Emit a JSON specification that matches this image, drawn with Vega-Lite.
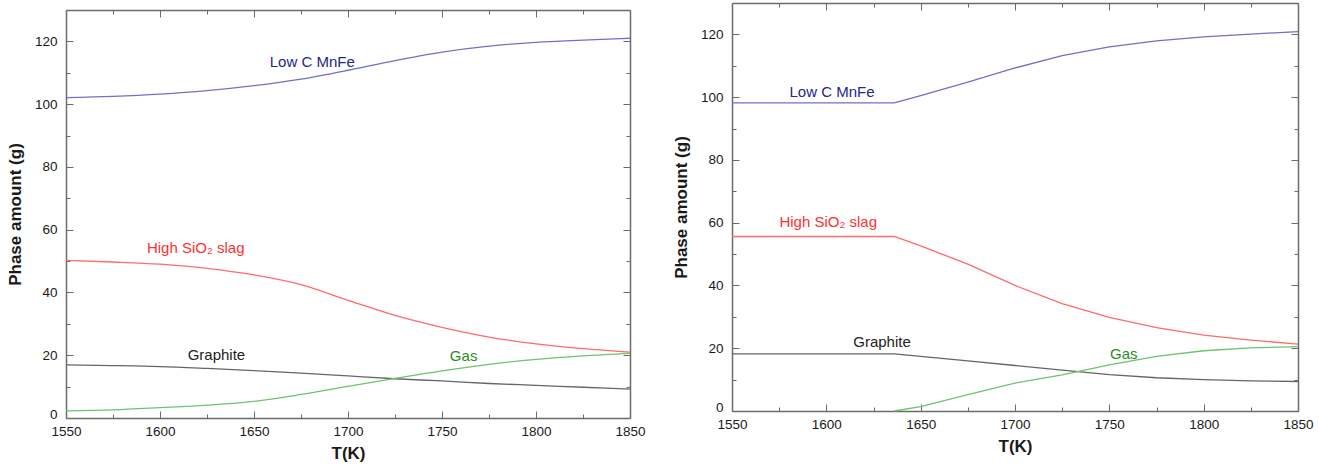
{
  "$schema": "https://vega.github.io/schema/vega-lite/v6.json",
  "padding": {"left": 6, "top": 2, "right": 5, "bottom": 5},
  "background": "white",
  "config": {
    "view": {"stroke": null},
    "font": "Liberation Sans",
    "axis": {
      "grid": false,
      "domainColor": "#6b6b6b",
      "domainWidth": 1.5,
      "tickColor": "#6b6b6b",
      "tickWidth": 1,
      "labelFont": "Liberation Sans",
      "labelFontSize": 13.5,
      "labelColor": "#1a1a1a",
      "labelOverlap": false,
      "labelFlush": false,
      "titleFont": "Liberation Sans",
      "titleFontSize": 17,
      "titleFontWeight": "bold",
      "titleColor": "#1a1a1a"
    }
  },
  "datasets": {
    "left": [
      {"series": "Low C MnFe", "T": 1550, "v": 102.1}, {"series": "Low C MnFe", "T": 1575, "v": 102.5}, {"series": "Low C MnFe", "T": 1600, "v": 103.2}, {"series": "Low C MnFe", "T": 1625, "v": 104.3}, {"series": "Low C MnFe", "T": 1650, "v": 105.9}, {"series": "Low C MnFe", "T": 1675, "v": 108.0}, {"series": "Low C MnFe", "T": 1700, "v": 110.8}, {"series": "Low C MnFe", "T": 1725, "v": 113.9}, {"series": "Low C MnFe", "T": 1750, "v": 116.6}, {"series": "Low C MnFe", "T": 1775, "v": 118.5}, {"series": "Low C MnFe", "T": 1800, "v": 119.7}, {"series": "Low C MnFe", "T": 1825, "v": 120.4}, {"series": "Low C MnFe", "T": 1850, "v": 121.0},
      {"series": "High SiO2 slag", "T": 1550, "v": 50.2}, {"series": "High SiO2 slag", "T": 1575, "v": 49.7}, {"series": "High SiO2 slag", "T": 1600, "v": 49.0}, {"series": "High SiO2 slag", "T": 1625, "v": 47.7}, {"series": "High SiO2 slag", "T": 1650, "v": 45.6}, {"series": "High SiO2 slag", "T": 1675, "v": 42.5}, {"series": "High SiO2 slag", "T": 1700, "v": 37.5}, {"series": "High SiO2 slag", "T": 1725, "v": 32.7}, {"series": "High SiO2 slag", "T": 1750, "v": 28.9}, {"series": "High SiO2 slag", "T": 1775, "v": 25.8}, {"series": "High SiO2 slag", "T": 1800, "v": 23.6}, {"series": "High SiO2 slag", "T": 1825, "v": 22.1}, {"series": "High SiO2 slag", "T": 1850, "v": 21.0},
      {"series": "Graphite", "T": 1550, "v": 16.9}, {"series": "Graphite", "T": 1575, "v": 16.7}, {"series": "Graphite", "T": 1600, "v": 16.4}, {"series": "Graphite", "T": 1625, "v": 15.8}, {"series": "Graphite", "T": 1650, "v": 15.1}, {"series": "Graphite", "T": 1675, "v": 14.3}, {"series": "Graphite", "T": 1700, "v": 13.4}, {"series": "Graphite", "T": 1725, "v": 12.5}, {"series": "Graphite", "T": 1750, "v": 11.8}, {"series": "Graphite", "T": 1775, "v": 11.0}, {"series": "Graphite", "T": 1800, "v": 10.4}, {"series": "Graphite", "T": 1825, "v": 9.8}, {"series": "Graphite", "T": 1850, "v": 9.2},
      {"series": "Gas", "T": 1550, "v": 2.3}, {"series": "Gas", "T": 1575, "v": 2.6}, {"series": "Gas", "T": 1600, "v": 3.3}, {"series": "Gas", "T": 1625, "v": 4.1}, {"series": "Gas", "T": 1650, "v": 5.3}, {"series": "Gas", "T": 1675, "v": 7.5}, {"series": "Gas", "T": 1700, "v": 10.1}, {"series": "Gas", "T": 1725, "v": 12.6}, {"series": "Gas", "T": 1750, "v": 15.0}, {"series": "Gas", "T": 1775, "v": 17.1}, {"series": "Gas", "T": 1800, "v": 18.7}, {"series": "Gas", "T": 1825, "v": 19.8}, {"series": "Gas", "T": 1850, "v": 20.6}
    ],
    "right": [
      {"series": "Low C MnFe", "T": 1550, "v": 98.2}, {"series": "Low C MnFe", "T": 1636, "v": 98.2}, {"series": "Low C MnFe", "T": 1650, "v": 100.5}, {"series": "Low C MnFe", "T": 1675, "v": 104.8}, {"series": "Low C MnFe", "T": 1700, "v": 109.3}, {"series": "Low C MnFe", "T": 1725, "v": 113.2}, {"series": "Low C MnFe", "T": 1750, "v": 116.0}, {"series": "Low C MnFe", "T": 1775, "v": 117.9}, {"series": "Low C MnFe", "T": 1800, "v": 119.2}, {"series": "Low C MnFe", "T": 1825, "v": 120.1}, {"series": "Low C MnFe", "T": 1850, "v": 120.9},
      {"series": "High SiO2 slag", "T": 1550, "v": 55.6}, {"series": "High SiO2 slag", "T": 1636, "v": 55.6}, {"series": "High SiO2 slag", "T": 1650, "v": 52.6}, {"series": "High SiO2 slag", "T": 1675, "v": 46.8}, {"series": "High SiO2 slag", "T": 1700, "v": 40.0}, {"series": "High SiO2 slag", "T": 1725, "v": 34.2}, {"series": "High SiO2 slag", "T": 1750, "v": 29.8}, {"series": "High SiO2 slag", "T": 1775, "v": 26.6}, {"series": "High SiO2 slag", "T": 1800, "v": 24.2}, {"series": "High SiO2 slag", "T": 1825, "v": 22.6}, {"series": "High SiO2 slag", "T": 1850, "v": 21.3},
      {"series": "Graphite", "T": 1550, "v": 18.2}, {"series": "Graphite", "T": 1636, "v": 18.2}, {"series": "Graphite", "T": 1650, "v": 17.4}, {"series": "Graphite", "T": 1675, "v": 16.0}, {"series": "Graphite", "T": 1700, "v": 14.5}, {"series": "Graphite", "T": 1725, "v": 13.0}, {"series": "Graphite", "T": 1750, "v": 11.6}, {"series": "Graphite", "T": 1775, "v": 10.6}, {"series": "Graphite", "T": 1800, "v": 10.0}, {"series": "Graphite", "T": 1825, "v": 9.6}, {"series": "Graphite", "T": 1850, "v": 9.4},
      {"series": "Gas", "T": 1636, "v": 0.0}, {"series": "Gas", "T": 1650, "v": 1.4}, {"series": "Gas", "T": 1675, "v": 5.2}, {"series": "Gas", "T": 1700, "v": 8.9}, {"series": "Gas", "T": 1725, "v": 11.5}, {"series": "Gas", "T": 1750, "v": 14.7}, {"series": "Gas", "T": 1775, "v": 17.4}, {"series": "Gas", "T": 1800, "v": 19.2}, {"series": "Gas", "T": 1825, "v": 20.1}, {"series": "Gas", "T": 1850, "v": 20.5}
    ],
    "leftLabels": [
      {"series": "Low C MnFe", "label": "Low C MnFe", "T": 1681, "v": 113.5},
      {"series": "High SiO2 slag", "label": "High SiO₂ slag", "T": 1619, "v": 54.3},
      {"series": "Graphite", "label": "Graphite", "T": 1630, "v": 20.2},
      {"series": "Gas", "label": "Gas", "T": 1761.5, "v": 19.6}
    ],
    "rightLabels": [
      {"series": "Low C MnFe", "label": "Low C MnFe", "T": 1603, "v": 101.7},
      {"series": "High SiO2 slag", "label": "High SiO₂ slag", "T": 1601, "v": 60.3},
      {"series": "Graphite", "label": "Graphite", "T": 1629.5, "v": 22.1},
      {"series": "Gas", "label": "Gas", "T": 1757.7, "v": 18.3}
    ]
  },
  "spacing": 26,
  "hconcat": [
    {
      "spacing": 5,
      "vconcat": [
        {
          "width": 564,
          "height": 1,
          "data": {"values": [{"a": 1}]},
          "mark": {"type": "text", "fontSize": 0},
          "encoding": {"text": {"value": ""}}
        },
        {
          "width": 564,
          "height": 408,
          "resolve": {"axis": {"x": "independent", "y": "independent"}, "scale": {"color": "independent"}},
          "layer": [
            {
              "data": {"name": "left"},
              "mark": {"type": "line", "interpolate": "monotone", "strokeWidth": 1.3},
              "encoding": {
                "x": {"field": "T", "type": "quantitative", "scale": {"domain": [1550, 1850], "nice": false, "zero": false},
                  "axis": {"orient": "bottom", "title": "T(K)", "titlePadding": 5, "format": "d", "values": [1550,1575,1600,1625,1650,1675,1700,1725,1750,1775,1800,1825,1850], "labelExpr": "datum.value % 50 === 0 ? datum.label : ''", "tickSize": {"condition": {"test": "datum.value % 50 === 0", "value": -7}, "value": -4}, "labelPadding": 13}},
                "y": {"field": "v", "type": "quantitative", "scale": {"domain": [0, 130], "nice": false},
                  "axis": {"orient": "left", "title": "Phase amount (g)", "titlePadding": 10, "format": "d", "values": [0,10,20,30,40,50,60,70,80,90,100,110,120], "labelExpr": "datum.value % 20 === 0 ? datum.label : ''", "tickSize": {"condition": {"test": "datum.value % 20 === 0", "value": -7}, "value": -4}, "labelPadding": 16, "labelOffset": {"condition": {"test": "datum.value === 0", "value": -4}, "value": 0}}},
                "color": {"field": "series", "type": "nominal", "legend": null,
                  "scale": {"domain": ["Low C MnFe", "High SiO2 slag", "Graphite", "Gas"], "range": ["#7070c8", "#ff6b6b", "#666666", "#6cc46c"]}},
                "detail": {"field": "series"}
              }
            },
            {
              "data": {"name": "leftLabels"},
              "mark": {"type": "text", "fontSize": 15, "align": "center", "baseline": "middle", "font": "Liberation Sans"},
              "encoding": {
                "x": {"field": "T", "type": "quantitative",
                  "axis": {"orient": "top", "title": null, "labels": false, "values": [1550,1575,1600,1625,1650,1675,1700,1725,1750,1775,1800,1825,1850], "tickSize": {"condition": {"test": "datum.value % 50 === 0", "value": -7}, "value": -4}}},
                "y": {"field": "v", "type": "quantitative",
                  "axis": {"orient": "right", "title": null, "labels": false, "values": [0,10,20,30,40,50,60,70,80,90,100,110,120], "tickSize": {"condition": {"test": "datum.value % 20 === 0", "value": -7}, "value": -4}}},
                "text": {"field": "label"},
                "color": {"field": "series", "type": "nominal", "legend": null,
                  "scale": {"domain": ["Low C MnFe", "High SiO2 slag", "Graphite", "Gas"], "range": ["#25258f", "#ff3030", "#222222", "#2d8a22"]}}
              }
            }
          ]
        }
      ]
    },
    {
      "width": 566,
      "height": 408,
      "resolve": {"axis": {"x": "independent", "y": "independent"}, "scale": {"color": "independent"}},
      "layer": [
        {
          "data": {"name": "right"},
          "mark": {"type": "line", "interpolate": "linear", "strokeWidth": 1.3},
          "encoding": {
            "x": {"field": "T", "type": "quantitative", "scale": {"domain": [1550, 1850], "nice": false, "zero": false},
              "axis": {"orient": "bottom", "title": "T(K)", "titlePadding": 5, "format": "d", "values": [1550,1575,1600,1625,1650,1675,1700,1725,1750,1775,1800,1825,1850], "labelExpr": "datum.value % 50 === 0 ? datum.label : ''", "tickSize": {"condition": {"test": "datum.value % 50 === 0", "value": -7}, "value": -4}, "labelPadding": 13}},
            "y": {"field": "v", "type": "quantitative", "scale": {"domain": [0, 130], "nice": false},
              "axis": {"orient": "left", "title": "Phase amount (g)", "titlePadding": 10, "format": "d", "values": [0,10,20,30,40,50,60,70,80,90,100,110,120], "labelExpr": "datum.value % 20 === 0 ? datum.label : ''", "tickSize": {"condition": {"test": "datum.value % 20 === 0", "value": -7}, "value": -4}, "labelPadding": 16, "labelOffset": {"condition": {"test": "datum.value === 0", "value": -4}, "value": 0}}},
            "color": {"field": "series", "type": "nominal", "legend": null,
              "scale": {"domain": ["Low C MnFe", "High SiO2 slag", "Graphite", "Gas"], "range": ["#7070c8", "#ff6b6b", "#666666", "#6cc46c"]}},
            "detail": {"field": "series"}
          }
        },
        {
          "data": {"name": "rightLabels"},
          "mark": {"type": "text", "fontSize": 15, "align": "center", "baseline": "middle", "font": "Liberation Sans"},
          "encoding": {
            "x": {"field": "T", "type": "quantitative",
              "axis": {"orient": "top", "title": null, "labels": false, "values": [1550,1575,1600,1625,1650,1675,1700,1725,1750,1775,1800,1825,1850], "tickSize": {"condition": {"test": "datum.value % 50 === 0", "value": -7}, "value": -4}}},
            "y": {"field": "v", "type": "quantitative",
              "axis": {"orient": "right", "title": null, "labels": false, "values": [0,10,20,30,40,50,60,70,80,90,100,110,120], "tickSize": {"condition": {"test": "datum.value % 20 === 0", "value": -7}, "value": -4}}},
            "text": {"field": "label"},
            "color": {"field": "series", "type": "nominal", "legend": null,
              "scale": {"domain": ["Low C MnFe", "High SiO2 slag", "Graphite", "Gas"], "range": ["#25258f", "#ff3030", "#222222", "#2d8a22"]}}
          }
        }
      ]
    }
  ]
}
